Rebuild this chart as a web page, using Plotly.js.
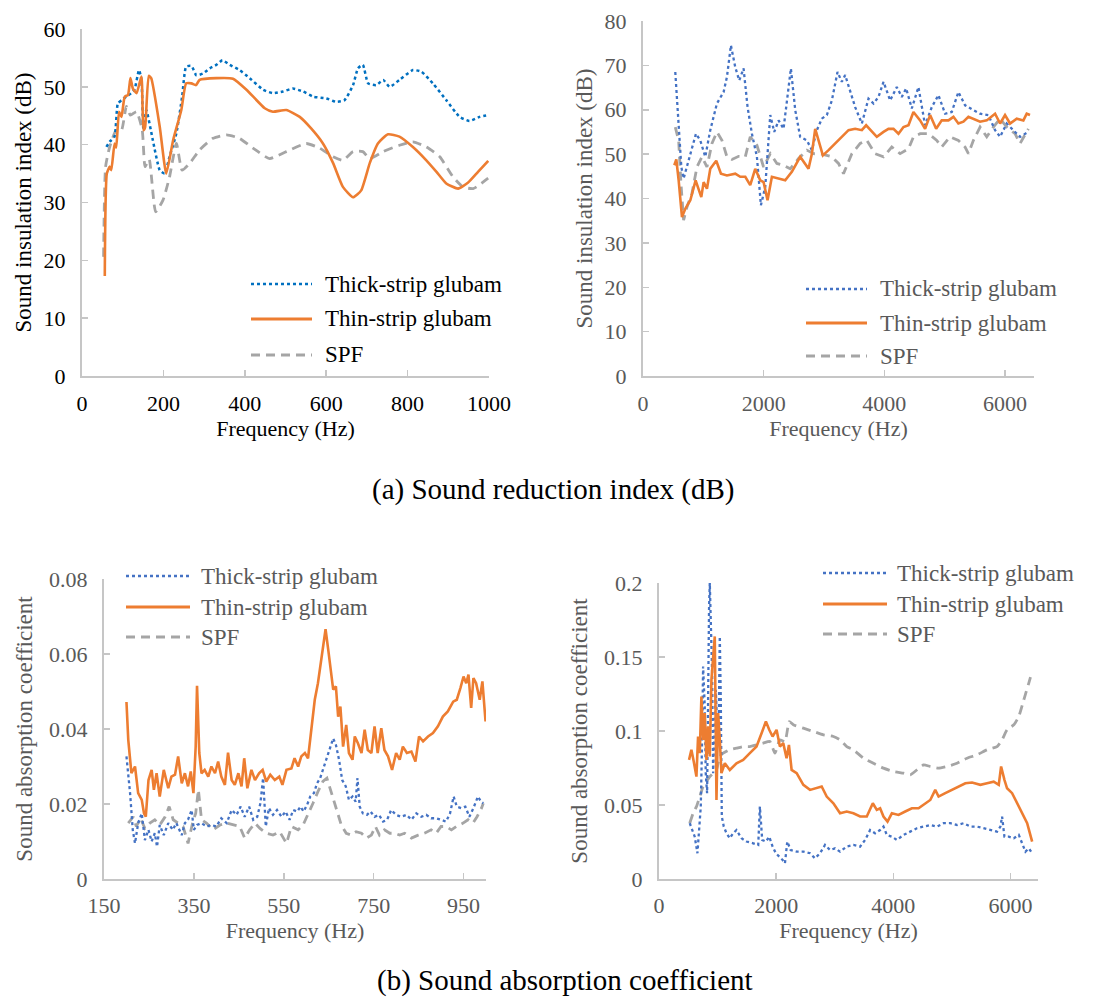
<!DOCTYPE html>
<html><head><meta charset="utf-8">
<script src="https://cdn.plot.ly/plotly-3.0.1.min.js"></script>
<style>html,body{margin:0;padding:0;background:#fff;font-family:"Liberation Serif","Times New Roman",serif}#chart{width:1106px;height:997px}</style>
</head><body><div id="chart"></div>
<script>
// ---------- Data ----------
const seriesNames = ["Thick-strip glubam", "Thin-strip glubam", "SPF"];
// (a) left: 0-1000 Hz sound insulation index (dB)
const a1ThickF = [60,68,80,88,97,109,121,129,140,146,151,158,174,191,203,215,232,246,256,269,281,297,314,330,345,363,387,412,445,469,494,518,543,568,600,625,645,666,678,690,703,723,740,756,780,813,834,862,895,928,952,977,998];
const a1ThickV = [39.6,40.5,41.4,47.1,47.7,48.3,48.9,49.5,52.9,51.2,42.5,46,40.8,35.6,35,37.9,42,48.3,53.5,53.6,52,52.3,53.2,53.8,54.6,53.8,52.9,51.5,49.5,48.9,49.2,49.7,49.2,48.3,48,47.4,47.7,50.3,53.2,53.8,50.6,50.3,51.2,50,51.2,52.9,52.6,50.6,47.7,44.8,44.1,44.8,45.1];
const a1ThinF = [56,61,68,72,80,84,91,97,105,113,119,125,134,146,151,155,164,170,191,207,224,244,256,269,280,289,330,371,404,449,469,502,535,563,592,617,641,666,686,707,727,752,780,813,846,871,895,924,948,973,998];
const a1ThinV = [17.3,35,36.2,35.6,40.2,39.5,45.7,44.8,48.3,48.6,51.5,49.7,48.9,51.8,42.5,43,51.9,51.5,43.1,35,40.8,46,50.6,50.6,50.3,51.2,51.5,51.4,49.5,46.3,45.7,46,44.8,42.8,40.2,36.8,32.7,30.9,32.1,36.8,40.2,41.8,41.4,39.6,37.3,35.3,33.3,32.4,33.4,35.3,37.2];
const a1SpfF = [53,58,68,84,97,109,119,134,148,155,165,181,199,215,232,246,265,289,322,355,387,420,461,502,551,584,617,641,666,690,707,740,780,813,846,879,912,936,961,998];
const a1SpfV = [20.6,36.2,39.6,42.5,42.5,46.6,45.1,45.7,42.5,36.2,37.5,28.4,30.4,34.4,40.2,35.6,36.8,39.1,41.1,41.7,41.1,39.4,37.6,38.8,40.2,39.4,37.9,37.3,38.8,38.8,37.6,38.8,39.9,40.5,39.6,37.9,34.4,32.7,32.4,34.2];

// (a) right: 500-6400 Hz
const a2ThickF = [535,591,635,673,729,811,878,949,1032,1115,1225,1336,1391,1457,1529,1595,1667,1733,1805,1888,1954,2026,2109,2175,2247,2329,2396,2451,2523,2605,2716,2799,2881,2964,3047,3130,3224,3295,3351,3433,3516,3627,3737,3820,3903,3986,4096,4206,4289,4361,4455,4565,4675,4786,4896,5007,5117,5227,5338,5476,5586,5724,5835,5918,6028,6166,6249,6387];
const a2ThickV = [68.5,56.1,47.1,44.5,47.1,50.9,54.6,53.1,49.4,55.4,61.4,64,67.4,74.5,69.6,66.6,69.3,60.6,54.6,49.4,38.5,42.6,58.8,55,57.6,55.7,63.6,69.3,59.9,53.9,53.1,50.9,55.4,58,58.8,62.1,68.5,66.3,67.8,64,60.6,56.9,62.5,61.4,62.9,66.3,62.1,65.1,62.9,64.8,60.3,65.1,56.5,60.6,63.3,59.1,59.5,64,61,59.9,59.1,58.8,55.4,53.9,56.9,55,53.9,55];
const a2ThinF = [519,552,591,646,701,784,872,922,966,1005,1060,1115,1214,1292,1391,1529,1612,1695,1777,1860,1943,1998,2064,2136,2247,2357,2467,2605,2743,2799,2854,2909,2981,3075,3185,3295,3406,3516,3627,3698,3792,3875,3986,4068,4151,4234,4317,4400,4482,4593,4675,4758,4858,4951,5062,5145,5227,5310,5393,5476,5586,5697,5835,5918,6000,6083,6194,6304,6359,6414];
const a2ThinV = [47.5,48.8,44.1,35.8,37.7,39.6,44.1,41.8,40.3,43.7,42.2,46.7,48.5,45.6,45.2,45.6,44.9,44.9,43,46.7,44.1,43.7,39.6,44.9,44.5,44.1,46,49.4,46.7,50.1,55.7,53.1,49.7,50.9,52.4,53.9,55.4,55.7,55.4,56.5,55,53.9,55,55.7,55.7,54.6,56.1,56.5,59.5,57.6,55.7,58.8,55.7,57.6,57.6,58.4,56.9,57.3,58.4,58,57.3,57.6,59.1,56.9,58.8,56.9,58,57.6,59.1,58.8];
const a2SpfF = [535,591,629,673,729,811,894,977,1060,1143,1225,1308,1391,1474,1584,1695,1777,1888,1998,2109,2219,2329,2440,2578,2716,2826,2964,3130,3240,3323,3461,3599,3709,3848,3986,4123,4261,4400,4482,4593,4731,4869,4951,5089,5227,5338,5393,5476,5586,5697,5807,5918,6028,6166,6249,6387];
const a2SpfV = [56.1,53.1,43.4,35.1,38.1,41.1,47.1,49.4,47.1,52.4,55,53.1,49.4,48.8,49.5,49.4,53.9,52,47.1,50.1,47.9,47.5,46.7,49,50.9,50.1,50,49.4,47.9,45.6,50.1,52.4,53.1,50.1,49.4,51.6,50.1,51.2,53.9,54.6,54.6,53.1,51.6,53.9,53.1,51.6,50.1,53.1,56.1,53.9,56.1,58,56.1,54.6,52.4,55.7];

// (b) left: 200-1000 Hz sound absorption coefficient
const b1ThickF = [200,208,214,219,226,234,241,249,256,263,268,274,283,293,303,311,323,330,337,345,350,357,367,378,389,400,411,423,434,445,454,463,473,482,491,498,504,510,517,526,535,545,554,563,571,580,587,594,602,609,617,624,631,639,646,654,660,666,673,680,688,695,703,710,714,719,726,735,743,752,762,771,780,789,800,811,823,834,845,856,867,878,889,900,911,920,928,935,945,954,963,972,982,989,994];
const b1ThickV = [0.0327,0.0229,0.0131,0.0095,0.0149,0.0175,0.0104,0.0131,0.0100,0.0122,0.0086,0.0144,0.0117,0.0149,0.0131,0.0149,0.0117,0.0149,0.0158,0.0184,0.0131,0.0144,0.0149,0.0140,0.0144,0.0140,0.0162,0.0149,0.0184,0.0171,0.0193,0.0166,0.0193,0.0158,0.0166,0.0202,0.0269,0.0140,0.0189,0.0171,0.0184,0.0166,0.0180,0.0158,0.0184,0.0180,0.0193,0.0180,0.0198,0.0220,0.0229,0.0255,0.0269,0.0300,0.0327,0.0353,0.0375,0.0358,0.0318,0.0264,0.0247,0.0211,0.0220,0.0206,0.0269,0.0193,0.0175,0.0171,0.0180,0.0166,0.0171,0.0153,0.0158,0.0184,0.0171,0.0166,0.0171,0.0158,0.0175,0.0166,0.0171,0.0162,0.0162,0.0158,0.0153,0.0175,0.0220,0.0193,0.0189,0.0193,0.0166,0.0189,0.0220,0.0206,0.0202];
const b1ThinF = [200,204,211,219,226,234,239,243,249,256,261,267,274,283,293,300,308,315,323,330,337,343,349,354,357,362,367,374,382,389,397,404,411,419,426,434,441,449,456,462,469,478,486,495,503,511,520,530,540,547,556,567,574,582,589,597,604,611,619,626,634,643,649,656,660,666,671,676,682,689,695,703,708,715,723,730,737,745,752,759,767,774,782,791,800,808,815,824,834,843,851,860,871,882,893,904,915,927,935,943,950,956,961,967,972,978,986,992,995,999];
const b1ThinV = [0.0472,0.0371,0.0282,0.0300,0.0229,0.0211,0.0175,0.0166,0.0264,0.0291,0.0238,0.0282,0.0220,0.0291,0.0242,0.0273,0.0278,0.0327,0.0255,0.0282,0.0247,0.0287,0.0229,0.0353,0.0515,0.0336,0.0282,0.0291,0.0273,0.0300,0.0282,0.0313,0.0273,0.0251,0.0337,0.0264,0.0251,0.0282,0.0247,0.0322,0.0242,0.0291,0.0264,0.0282,0.0291,0.0260,0.0278,0.0264,0.0273,0.0251,0.0291,0.0295,0.0322,0.0300,0.0327,0.0336,0.0322,0.0389,0.0478,0.0522,0.0594,0.0666,0.0611,0.0549,0.0505,0.0514,0.0433,0.0460,0.0353,0.0411,0.0336,0.0318,0.0380,0.0362,0.0336,0.0398,0.0344,0.0336,0.0407,0.0336,0.0402,0.0344,0.0327,0.0291,0.0336,0.0318,0.0353,0.0336,0.0340,0.0313,0.0380,0.0367,0.0380,0.0389,0.0407,0.0433,0.0447,0.0473,0.0478,0.0509,0.0540,0.0522,0.0545,0.0456,0.0536,0.0522,0.0478,0.0527,0.0478,0.0420];
const b1SpfF = [204,215,222,231,241,252,263,274,286,295,304,315,326,337,347,354,360,367,378,393,408,423,437,452,463,474,486,497,511,526,541,556,567,582,593,604,615,626,637,646,654,660,669,678,689,700,711,723,734,745,754,763,774,786,797,808,819,834,849,863,878,889,900,911,923,934,949,960,971,980,990,994];
const b1SpfV = [0.0149,0.0166,0.0140,0.0162,0.0135,0.0149,0.0158,0.0144,0.0166,0.0193,0.0158,0.0149,0.0140,0.0095,0.0149,0.0175,0.0238,0.0158,0.0149,0.0131,0.0144,0.0149,0.0144,0.0140,0.0109,0.0131,0.0149,0.0135,0.0122,0.0117,0.0126,0.0095,0.0140,0.0131,0.0144,0.0171,0.0202,0.0233,0.0260,0.0269,0.0238,0.0211,0.0180,0.0144,0.0122,0.0117,0.0126,0.0122,0.0109,0.0117,0.0140,0.0117,0.0131,0.0122,0.0122,0.0117,0.0122,0.0109,0.0117,0.0122,0.0131,0.0122,0.0140,0.0140,0.0131,0.0140,0.0149,0.0158,0.0149,0.0166,0.0189,0.0202];

// (b) right: 500-6400 Hz
const b2ThickF = [525,570,610,656,684,713,736,753,781,798,821,838,855,867,884,907,924,947,969,992,1015,1038,1055,1072,1106,1152,1209,1266,1323,1409,1494,1608,1694,1722,1762,1825,1882,1939,1996,2053,2110,2150,2190,2247,2350,2464,2578,2663,2749,2834,2920,3005,3091,3205,3319,3433,3519,3604,3690,3775,3832,3889,3975,4061,4175,4289,4403,4517,4631,4745,4859,4973,5087,5201,5315,5429,5543,5657,5771,5828,5857,5897,5971,6057,6142,6199,6256,6313,6370];
const b2ThickV = [0.0377,0.0331,0.0286,0.0174,0.0309,0.0489,0.0940,0.1436,0.1166,0.0715,0.0580,0.1391,0.1842,0.2000,0.1730,0.1391,0.0715,0.0985,0.1279,0.1053,0.0940,0.1639,0.1211,0.0422,0.0354,0.0309,0.0275,0.0309,0.0331,0.0275,0.0253,0.0241,0.0230,0.0489,0.0264,0.0253,0.0286,0.0219,0.0174,0.0151,0.0129,0.0106,0.0253,0.0196,0.0185,0.0185,0.0174,0.0140,0.0174,0.0230,0.0196,0.0207,0.0185,0.0219,0.0230,0.0219,0.0264,0.0331,0.0309,0.0331,0.0354,0.0298,0.0286,0.0264,0.0298,0.0320,0.0343,0.0354,0.0365,0.0354,0.0377,0.0377,0.0365,0.0377,0.0354,0.0354,0.0343,0.0331,0.0320,0.0354,0.0422,0.0286,0.0286,0.0275,0.0298,0.0241,0.0185,0.0207,0.0174];
const b2ThinF = [513,553,593,639,667,696,724,753,781,810,838,867,895,924,952,981,1009,1038,1066,1124,1209,1323,1437,1551,1665,1751,1825,1882,1939,2007,2064,2121,2178,2218,2264,2350,2464,2578,2692,2777,2863,2977,3091,3205,3319,3433,3547,3650,3718,3775,3832,3901,3975,4089,4203,4317,4431,4545,4631,4716,4773,4887,5001,5116,5230,5344,5486,5600,5714,5800,5840,5897,5942,6028,6114,6199,6285,6370];
const b2ThinV = [0.0805,0.0873,0.0794,0.0692,0.0963,0.0850,0.1233,0.0940,0.1121,0.0805,0.1031,0.0828,0.1346,0.1527,0.1639,0.0534,0.1121,0.0940,0.0715,0.0782,0.0737,0.0782,0.0805,0.0850,0.0895,0.0985,0.1064,0.1008,0.0963,0.1008,0.0895,0.0918,0.0816,0.0906,0.0737,0.0715,0.0636,0.0602,0.0613,0.0625,0.0557,0.0512,0.0444,0.0456,0.0444,0.0422,0.0422,0.0512,0.0467,0.0478,0.0422,0.0388,0.0444,0.0433,0.0456,0.0478,0.0478,0.0512,0.0534,0.0602,0.0557,0.0580,0.0602,0.0625,0.0647,0.0652,0.0636,0.0647,0.0658,0.0636,0.0760,0.0670,0.0613,0.0580,0.0512,0.0444,0.0377,0.0253];
const b2SpfF = [525,582,639,696,753,810,867,924,981,1038,1095,1209,1323,1437,1551,1665,1779,1893,1979,2064,2150,2224,2293,2464,2635,2806,2977,3091,3205,3319,3490,3661,3832,4004,4175,4289,4403,4517,4631,4773,4916,5087,5258,5429,5600,5771,5857,5942,6057,6142,6228,6313,6370];
const b2SpfV = [0.0377,0.0444,0.0489,0.0557,0.0625,0.0658,0.0692,0.0715,0.0737,0.0828,0.0850,0.0873,0.0884,0.0895,0.0895,0.0906,0.0918,0.0929,0.0850,0.0940,0.0929,0.1064,0.1042,0.1019,0.0997,0.0974,0.0963,0.0940,0.0895,0.0873,0.0816,0.0782,0.0749,0.0726,0.0715,0.0704,0.0737,0.0771,0.0760,0.0749,0.0760,0.0782,0.0816,0.0839,0.0873,0.0895,0.0940,0.1008,0.1042,0.1098,0.1211,0.1324,0.1403];

// Tick labels / titles
const xTitle = "Frequency (Hz)";
const yTitleA = "Sound insulation index (dB)";
const yTitleB = "Sound absorption coefficient";
const captionA = "(a) Sound reduction index (dB)";
const captionB = "(b) Sound absorption coefficient";

// ---------- Styling ----------
const W = 1106, H = 997;
const FONT = "Liberation Serif, Times New Roman, serif";
const ORANGE = "#ED7D31", GRAY = "#A5A5A5", BLUE1 = "#0070C0", BLUE2 = "#4472C4";
const TXT1 = "#000000", TXT2 = "#595959";
const px = x => x / W, py = y => 1 - y / H;

function tr(x, y, xa, ya, color, dash, width, shape) {
  return {x: x, y: y, xaxis: xa, yaxis: ya, type: "scatter", mode: "lines", showlegend: false,
    hoverinfo: "skip", line: {color: color, dash: dash, width: width, shape: shape || "linear", smoothing: 0.5}};
}
const DOT = "dot", DASH = "9px,6px";
const data = [
  tr(a1SpfF, a1SpfV, "x", "y", GRAY, DASH, 2.8, "spline"),
  tr(a1ThickF, a1ThickV, "x", "y", BLUE1, DOT, 2.5, "spline"),
  tr(a1ThinF, a1ThinV, "x", "y", ORANGE, "solid", 2.6, "spline"),
  tr(a2SpfF, a2SpfV, "x2", "y2", GRAY, DASH, 2.8),
  tr(a2ThickF, a2ThickV, "x2", "y2", BLUE2, DOT, 2.3),
  tr(a2ThinF, a2ThinV, "x2", "y2", ORANGE, "solid", 2.6),
  tr(b1SpfF, b1SpfV, "x3", "y3", GRAY, DASH, 2.8),
  tr(b1ThickF, b1ThickV, "x3", "y3", BLUE2, DOT, 2.3),
  tr(b1ThinF, b1ThinV, "x3", "y3", ORANGE, "solid", 2.6),
  tr(b2SpfF, b2SpfV, "x4", "y4", GRAY, DASH, 2.8, "spline"),
  tr(b2ThickF, b2ThickV, "x4", "y4", BLUE2, DOT, 2.3),
  tr(b2ThinF, b2ThinV, "x4", "y4", ORANGE, "solid", 2.6)
];

function axis(domain, range, dtick, tick0, color, anchor, extra) {
  return Object.assign({
    domain: domain, range: range, dtick: dtick, tick0: tick0, anchor: anchor,
    showline: true, linecolor: "#c6c6c6", linewidth: 2, ticks: "inside", ticklen: 6,
    tickcolor: "#c6c6c6", tickwidth: 1.5, showgrid: false, zeroline: false,
    tickfont: {family: FONT, size: 22, color: color}, ticklabelstandoff: 10, fixedrange: true
  }, extra || {});
}
function xt(color) { return {ticklabelstandoff: 7, title: {text: xTitle, font: {family: FONT, size: 22, color: color}, standoff: 0}}; }
function yt(text, color, so) { return {title: {text: text, font: {family: FONT, size: 23, color: color}, standoff: so}}; }

const layout = {
  width: W, height: H, margin: {l: 0, r: 0, t: 0, b: 0}, paper_bgcolor: "#fff", plot_bgcolor: "rgba(0,0,0,0)",
  showlegend: false, font: {family: FONT},
  xaxis: axis([px(82), px(489)], [0, 1000], 200, 0, TXT1, "y", xt(TXT1)),
  yaxis: axis([py(376), py(29)], [0, 60], 10, 0, TXT1, "x", yt(yTitleA, TXT1, 6)),
  xaxis2: axis([px(643), px(1034)], [0, 6480], 2000, 0, TXT2, "y2", xt(TXT2)),
  yaxis2: axis([py(376), py(21)], [0, 80], 10, 0, TXT2, "x2", yt(yTitleA, TXT2, 6)),
  xaxis3: axis([px(104), px(486)], [150, 1000], 200, 150, TXT2, "y3", Object.assign(xt(TXT2), {ticklabelstandoff: 6})),
  yaxis3: axis([py(879), py(579)], [0, 0.08], 0.02, 0, TXT2, "x3", yt(yTitleB, TXT2, 10)),
  xaxis4: axis([px(659), px(1038)], [0, 6470], 2000, 0, TXT2, "y4", Object.assign(xt(TXT2), {ticklabelstandoff: 6})),
  yaxis4: axis([py(879), py(583)], [0, 0.2], 0.05, 0, TXT2, "x4", yt(yTitleB, TXT2, 10)),
  shapes: [], annotations: []
};

// Captions
layout.annotations.push({text: captionA, xref: "paper", yref: "paper", x: px(553), y: py(490), xanchor: "center", yanchor: "middle",
  showarrow: false, font: {family: FONT, size: 29, color: "#000"}});
layout.annotations.push({text: captionB, xref: "paper", yref: "paper", x: px(565), y: py(980), xanchor: "center", yanchor: "middle",
  showarrow: false, font: {family: FONT, size: 29, color: "#000"}});

// Legends (one per panel)
const legendSpecs = [
  {x0: 251, x1: 312, tx: 323, rows: [284, 319, 355], color: TXT1, blue: BLUE1},
  {x0: 806, x1: 867, tx: 878, rows: [289, 323, 356], color: TXT2, blue: BLUE2},
  {x0: 126, x1: 190, tx: 199, rows: [576, 607, 637], color: TXT2, blue: BLUE2},
  {x0: 823, x1: 887, tx: 895, rows: [573, 604, 634], color: TXT2, blue: BLUE2}
];
legendSpecs.forEach(s => {
  const styles = [{c: s.blue, d: DOT, w: 2.5}, {c: ORANGE, d: "solid", w: 2.8}, {c: GRAY, d: DASH, w: 2.8}];
  s.rows.forEach((ry, i) => {
    layout.shapes.push({type: "line", xref: "paper", yref: "paper", x0: px(s.x0), x1: px(s.x1), y0: py(ry), y1: py(ry),
      line: {color: styles[i].c, dash: styles[i].d, width: styles[i].w}});
    layout.annotations.push({text: seriesNames[i], xref: "paper", yref: "paper", x: px(s.tx), y: py(ry),
      xanchor: "left", yanchor: "middle", showarrow: false, font: {family: FONT, size: 23, color: s.color}});
  });
});

Plotly.newPlot("chart", data, layout, {staticPlot: true, displayModeBar: false});
</script></body></html>
